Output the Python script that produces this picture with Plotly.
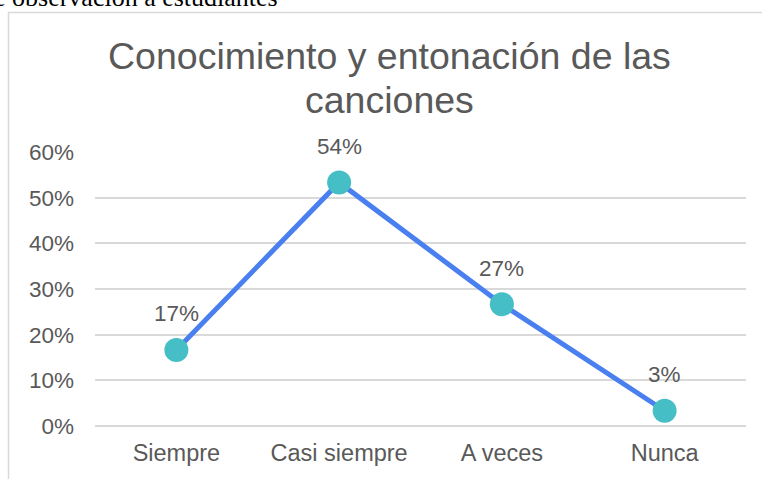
import plotly.graph_objects as go

categories = ["Siempre", "Casi siempre", "A veces", "Nunca"]
values = [5 / 30, 16 / 30, 8 / 30, 1 / 30]
labels = ["17%", "54%", "27%", "3%"]
y_ticks = [0, 0.1, 0.2, 0.3, 0.4, 0.5, 0.6]
y_tick_text = ["0%", "10%", "20%", "30%", "40%", "50%", "60%"]
title_lines = ["Conocimiento y entonación de las", "canciones"]

grey = "#595959"
grid = "#d9d9d9"
sans = "Liberation Sans, Arial"

fig = go.Figure(go.Scatter(
    x=categories, y=values,
    mode="lines+markers",
    line=dict(color="#4a7ff0", width=5),
    marker=dict(size=24, color="#45bec6"),
    cliponaxis=False,
))

# data labels above the points
for c, v, t in zip(categories, values, labels):
    fig.add_annotation(x=c, y=v, text=t, showarrow=False, yshift=36,
                       font=dict(size=22.5, color=grey, family=sans))

W, H = 762, 479
L, R, T, B = 95, 16, 152, 53
pw, ph = W - L - R, H - T - B

def px_x(x):
    return (x - L) / pw

def px_y(y):
    return (H - B - y) / ph

# chart frame (cut by the crop on the right and bottom)
fig.add_shape(type="rect", xref="paper", yref="paper",
              x0=px_x(8.5), x1=px_x(790), y0=px_y(12.5), y1=px_y(520),
              line=dict(color=grid, width=1.5), layer="below")

for line, yc in zip(title_lines, [56, 100]):
    fig.add_annotation(text=line, xref="paper", yref="paper",
                       x=px_x(389.5), y=px_y(yc),
                       xanchor="center", yanchor="middle", showarrow=False,
                       font=dict(size=37.5, color=grey, family=sans))

# caption of the document, cut at the top of the crop
fig.add_annotation(text="e observación a estudiantes",
                   xref="paper", yref="paper", x=px_x(-8), y=px_y(-2),
                   xanchor="left", yanchor="middle", showarrow=False,
                   font=dict(size=26, color="black", family="Liberation Serif, Times New Roman"))

fig.update_layout(
    width=W, height=H,
    margin=dict(l=L, r=R, t=T, b=B),
    plot_bgcolor="white", paper_bgcolor="white",
    showlegend=False,
    font=dict(family=sans, color=grey, size=22.5),
)
fig.update_xaxes(showgrid=False, showline=False, ticks="", range=[-0.5, 3.5],
                 ticklabelstandoff=10, tickfont=dict(size=23.5, color=grey))
fig.update_yaxes(range=[0, 0.6], tickvals=y_ticks, ticktext=y_tick_text,
                 showgrid=True, gridcolor=grid, gridwidth=1.5, zeroline=True,
                 zerolinecolor=grid, zerolinewidth=1.5, showline=False,
                 ticklabelstandoff=20, tickfont=dict(size=22.5, color=grey))

fig.write_html("out.html", config={"displayModeBar": False},
               post_script="document.body.style.margin='0';")
